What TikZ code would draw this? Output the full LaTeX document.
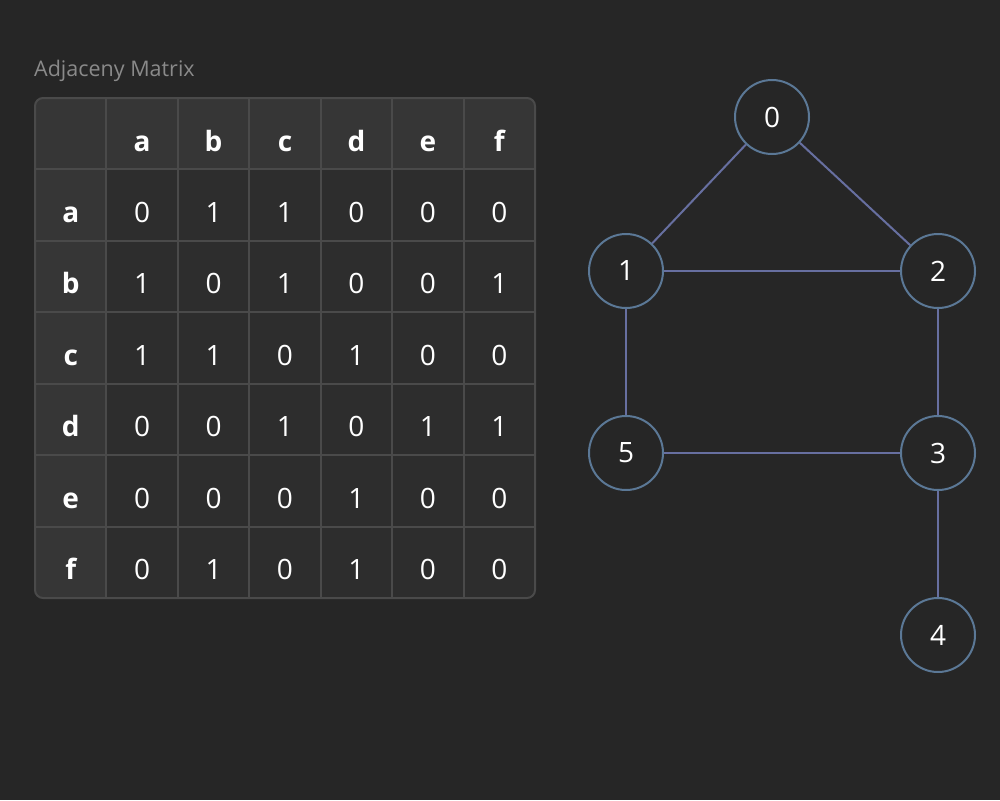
\documentclass[tikz,border=0pt]{standalone}
\usepackage{fontspec}
\setmainfont{Open Sans}
\definecolor{bg}{HTML}{262626}
\definecolor{headcell}{HTML}{363636}
\definecolor{bodycell}{HTML}{2D2D2D}
\definecolor{gridline}{HTML}{4A4A4A}
\definecolor{titlegray}{HTML}{8A8A8A}
\definecolor{ring}{HTML}{5B7896}
\definecolor{link}{HTML}{676FA0}
\tikzset{
  headtxt/.style={anchor=base, text=white, font=\fontsize{28}{32}\selectfont\bfseries},
  celltxt/.style={anchor=base, text=white, font=\fontsize{28}{32}\selectfont},
  vertex/.style={circle, draw=ring, line width=2pt, fill=bg, minimum size=74pt, inner sep=0pt, text=white, font=\fontsize{28}{32}\selectfont},
}
\begin{document}
\begin{tikzpicture}[x=1pt, y=-1pt]
\pgfmathsetmacro{\cell}{500/7}
\pgfmathsetmacro{\tabx}{35}
\pgfmathsetmacro{\taby}{98}
\fill [bg] (0,0) rectangle (1000,800);
\node [anchor=base west, inner sep=0pt, text=titlegray, font=\fontsize{21.5}{24}\selectfont] (title) at (34,77) {Adjaceny Matrix};
% table
\begin{scope}
\clip [rounded corners=8pt] (\tabx,\taby) rectangle ++(500,500);
\fill [headcell] (\tabx,\taby) rectangle ++(500,500);
\fill [bodycell] (\tabx+\cell,\taby+\cell) rectangle (\tabx+500,\taby+500);
\foreach \i in {1,...,6}{
  \draw [gridline, line width=2pt] (\tabx+\i*\cell,\taby) -- ++(0,500);
  \draw [gridline, line width=2pt] (\tabx,\taby+\i*\cell) -- ++(500,0);
}
\end{scope}
\draw [gridline, line width=2pt, rounded corners=8pt] (\tabx,\taby) rectangle ++(500,500);
\foreach \r [count=\i] in {a,b,c,d,e,f}{
  \node [headtxt] (col-\r) at ({\tabx+(\i+0.5)*\cell},{\taby+53}) {\r};
  \node [headtxt] (row-\r) at ({\tabx+0.5*\cell},{\taby+\i*\cell+53}) {\r};
}
\foreach \vals [count=\i] in {{0,1,1,0,0,0},{1,0,1,0,0,1},{1,1,0,1,0,0},{0,0,1,0,1,1},{0,0,0,1,0,0},{0,1,0,1,0,0}}{
  \foreach \v [count=\j] in \vals
    \node [celltxt] (m-\i-\j) at ({\tabx+(\j+0.5)*\cell},{\taby+\i*\cell+53}) {\v};
}
% graph
\node [vertex] (n0) at (772,117) {0};
\node [vertex] (n1) at (626,271) {1};
\node [vertex] (n2) at (938,271) {2};
\node [vertex] (n5) at (626,453) {5};
\node [vertex] (n3) at (938,453) {3};
\node [vertex] (n4) at (938,635) {4};
\path [every edge/.append style={draw=link, line width=2pt}]
(n0) edge (n1)
(n0) edge (n2)
(n1) edge (n2)
(n1) edge (n5)
(n2) edge (n3)
(n5) edge (n3)
(n3) edge (n4)
;
\end{tikzpicture}
\end{document}
